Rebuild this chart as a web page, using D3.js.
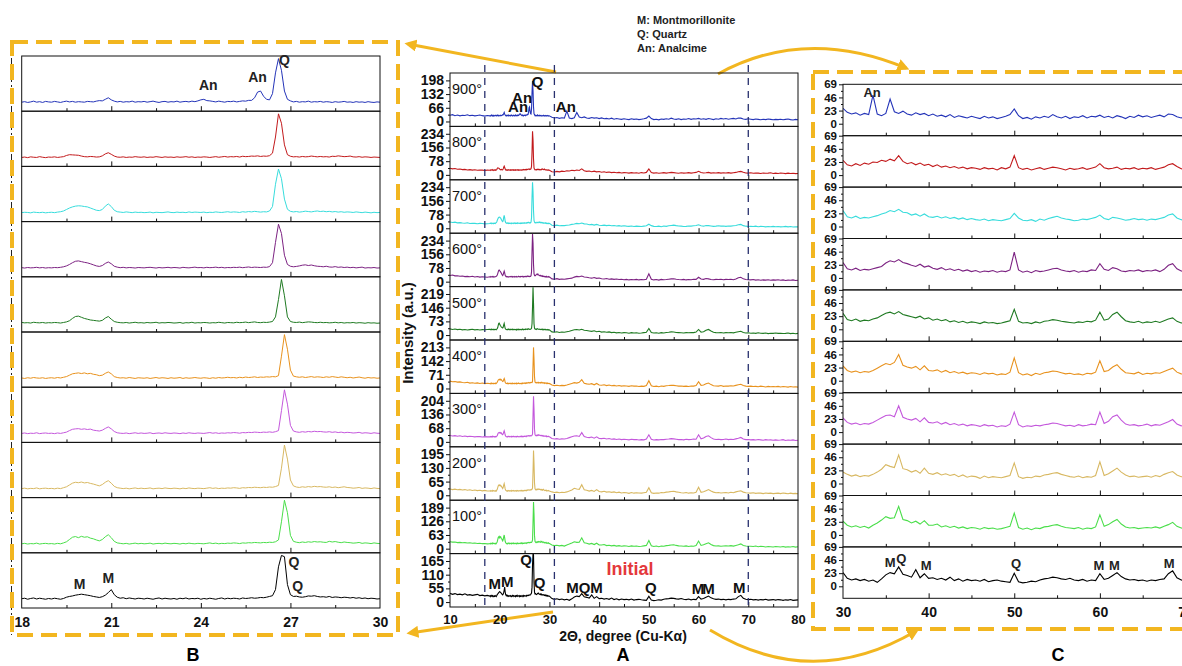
<!DOCTYPE html>
<html>
<head>
<meta charset="UTF-8">
<title>XRD patterns</title>
<script src="https://d3js.org/d3.v7.min.js"></script>
<style>
  body { margin: 0; background: #fff; }
  svg text { font-family: "Liberation Sans", Arial, sans-serif; }
</style>
</head>
<body>
<div id="chart"></div>
<script>

// ---- data ----
var seriesLabels = ['900°','800°','700°','600°','500°','400°','300°','200°','100°','Initial'];
var aTickMax = [198, 234, 234, 234, 219, 213, 204, 195, 189, 165];
var cTicks = [0, 23, 46, 69];
var aXTicks = [10, 20, 30, 40, 50, 60, 70, 80];
var bXTicks = [18, 21, 24, 27, 30];
var cXTicks = [30, 40, 50, 60, 70];
var dashedAt = [17, 31, 70];
var legendLines = ['M: Montmorillonite', 'Q: Quartz', 'An: Analcime'];

// intensity, 2θ = 10 .. 17.5 step 0.5
var low900 = [30,33,28,31,27,30,29,32,28,30,27,29,31,28,26,29];
var low800 = [38,34,36,32,33,30,31,28,30,27,29,26,28,27,25,27];
var low700 = [36,33,35,31,32,30,29,31,27,29,28,26,28,27,25,26];
var low600 = [35,38,33,34,31,32,29,30,28,31,27,29,26,28,27,25];
var low500 = [33,30,32,29,31,28,30,27,29,31,28,30,27,29,28,30];
var low400 = [38,35,36,33,34,31,30,32,28,30,27,29,26,28,25,27];
var low300 = [32,29,31,28,30,27,29,26,28,27,25,27,26,24,26,25];
var low200 = [30,27,29,26,28,25,27,24,26,23,25,22,24,21,23,20];
var low100 = [32,30,31,28,29,27,28,26,27,25,26,24,25,23,24,22];
var lowInit = [35,31,34,30,32,29,33,28,30,27,29,31,26,28,25,27];

// intensity, 2θ = 18.0 .. 30.0 step 0.1
var fine900 = [
  27,29,26,28,31,27,29,26,30,28, 27,30,28,26,29,31,28,30,27,29,
  28,27,30,29,28,31,33,32,38,44, 36,31,28,30,27,29,28,31,27,29,
  28,30,27,29,31,28,26,29,30,27, 29,28,31,27,29,30,28,31,29,32,
  36,38,33,32,30,28,31,29,27,30, 29,31,28,30,32,31,34,34,44,66,
  70,50,38,36,60,140,195,150,70,38, 32,28,30,27,29,28,31,27,29,28,
  30,27,29,28,26,29,27,28,30,27, 28,26,29,27,28,26,29,27,26,28, 27];
var fine800 = [
  26,28,25,29,27,26,30,27,25,28, 27,29,26,28,30,36,40,39,38,37,
  33,30,29,31,30,28,29,34,44,50, 42,33,28,27,29,26,28,27,30,28,
  27,29,26,28,27,30,28,26,29,27, 28,26,29,27,28,30,27,29,26,28,
  27,29,28,26,28,30,27,29,31,28, 30,29,31,28,32,30,31,33,32,34,
  31,33,32,35,48,130,248,200,90,40, 32,29,30,28,31,29,30,33,31,29,
  31,29,30,28,32,31,34,32,30,31, 33,29,28,30,27,29,28,26,28,27, 26];
var fine700 = [
  27,29,28,26,30,28,27,29,26,28, 29,27,30,32,36,44,52,58,62,64,
  63,60,58,52,46,40,38,44,62,74, 60,40,32,30,28,31,29,27,30,28,
  29,27,28,30,26,29,28,27,29,31, 28,27,30,28,29,27,31,28,30,29,
  28,30,27,29,28,31,29,28,30,32, 29,31,30,28,32,30,33,31,34,32,
  30,32,31,36,60,180,262,210,100,45, 34,31,33,30,32,35,33,31,34,36,
  33,35,32,34,31,33,30,32,29,31, 30,28,31,29,27,30,28,26,29,27, 28];
var fine600 = [
  28,26,29,27,28,30,27,29,26,28, 27,29,28,30,33,38,46,56,64,66,
  62,58,55,50,44,38,35,40,52,60, 50,36,31,28,30,27,29,28,26,29,
  28,27,29,30,28,26,29,27,28,30, 27,29,28,26,30,28,27,29,31,28,
  29,27,30,28,29,31,28,30,27,29, 28,30,29,31,28,30,32,29,31,30,
  29,31,30,34,56,170,272,220,98,46, 36,33,35,38,42,44,40,43,39,36,
  35,33,36,32,31,34,30,32,29,31, 28,30,27,29,31,26,28,27,29,26, 27];
var fine500 = [
  31,29,30,28,32,30,29,31,28,30, 29,31,30,28,31,34,40,52,62,64,
  58,52,48,44,42,40,38,42,54,62, 48,36,32,30,29,31,28,30,32,29,
  30,28,31,29,30,32,28,30,29,31, 30,28,29,31,27,30,29,32,28,30,
  29,31,30,28,30,29,32,30,28,31, 30,29,32,30,31,33,30,32,34,31,
  30,32,31,33,36,60,150,255,170,60, 36,32,31,33,30,32,34,33,31,30,
  32,30,31,29,30,32,29,31,28,30, 29,31,28,30,29,27,30,28,29,27, 28];
var fine400 = [
  26,24,27,25,28,26,25,27,24,26, 27,25,28,26,29,32,38,44,46,48,
  45,48,44,46,42,40,36,38,46,52, 44,32,28,26,27,25,28,26,24,27,
  26,25,27,24,26,28,25,27,26,24, 27,25,26,28,24,27,25,26,28,26,
  25,27,26,24,27,25,28,26,27,29, 27,28,26,29,27,30,28,29,31,28,
  30,29,31,30,32,31,36,120,213,150, 60,34,31,29,31,28,30,32,29,31,
  30,28,31,29,32,30,28,31,29,27, 29,26,28,30,27,25,28,26,27,25, 26];
var fine300 = [
  25,27,24,26,25,28,24,26,27,25, 26,24,27,25,28,31,38,44,46,47,
  44,46,43,45,40,38,36,40,48,55, 46,34,28,26,25,27,24,26,28,25,
  27,25,26,28,24,26,27,25,28,26, 25,27,26,24,27,25,28,26,25,27,
  26,25,27,29,26,28,25,27,26,28, 27,29,28,26,29,28,30,29,31,30,
  29,31,30,32,30,33,38,130,226,160, 62,36,32,30,33,31,34,32,35,33,
  34,32,31,33,30,32,29,31,28,30, 29,27,28,30,26,28,27,25,28,26, 25];
var fine200 = [
  20,22,19,21,20,23,19,21,22,20, 21,19,22,20,24,28,36,44,48,46,
  49,45,47,43,40,36,32,38,48,55, 44,30,24,22,20,22,19,21,23,20,
  22,20,21,23,19,21,22,20,23,21, 20,22,21,19,22,20,23,21,20,22,
  21,20,22,24,21,23,20,22,21,23, 22,24,23,21,24,23,25,24,26,25,
  24,26,25,27,26,29,34,110,212,150, 58,32,27,25,28,26,29,27,30,28,
  29,27,26,28,25,27,24,26,28,25, 24,22,23,25,21,23,22,20,23,21, 20];
var fine100 = [
  23,25,22,24,23,26,22,24,25,23, 24,22,25,23,27,32,42,52,55,50,
  56,52,54,48,45,40,36,42,54,63, 50,34,27,25,23,25,22,24,26,23,
  25,23,24,26,22,24,25,23,26,24, 23,25,24,22,25,23,26,24,23,25,
  24,23,25,27,24,26,23,25,24,26, 25,27,26,24,27,26,28,27,29,28,
  27,29,28,30,29,32,40,120,215,160, 60,34,30,28,31,29,32,30,33,31,
  32,30,29,34,31,33,30,28,31,29, 28,26,27,29,25,27,26,24,27,25, 24];
var fineInit = [
  24,26,22,25,27,23,26,24,22,25, 23,26,24,22,25,30,33,35,38,40,
  42,40,38,36,33,31,29,32,38,48, 60,40,30,26,28,24,27,25,23,26,
  25,23,26,24,22,25,27,23,26,24, 23,25,22,26,24,27,23,25,24,26,
  22,25,23,26,24,22,25,27,23,26, 24,26,25,23,27,25,26,28,26,27,
  29,28,30,33,36,60,150,195,190,80, 40,33,34,31,30,32,35,34,36,33,
  31,32,30,33,29,31,30,28,30,29, 27,29,26,28,25,27,24,26,25,23, 24];

// intensity, 2θ = 30.5 .. 80 step 0.5
var high900 = [
  20,17,19,15,18,16,50,17,14,18, 43,21,18,22,17,15,19,16,18,14,
  17,13,15,12,16,11,14,12,10,13, 11,9,13,10,12,9,11,13,16,26,
  14,9,11,8,12,10,13,11,16,12, 10,13,9,12,11,14,10,13,12,15,
  11,13,10,14,12,9,13,11,15,12, 14,11,13,15,12,17,16,12,10,13,
  11,9,12,10,8,11,9,12,10,8, 10,9,11,8,10,12,9,7,10,8];
var high800 = [
  18,16,20,17,21,19,23,22,26,24, 28,25,34,24,20,22,18,21,17,19,
  15,18,14,16,13,15,12,14,11,13, 12,10,13,11,12,9,13,11,14,34,
  13,10,12,9,11,13,10,12,14,13, 11,9,12,10,11,13,10,12,14,20,
  13,11,12,14,10,12,11,13,10,12, 11,13,10,12,14,18,20,15,11,10,
  12,9,11,10,8,11,9,10,12,8, 10,8,11,9,7,10,8,9,7,8];
var high700 = [
  17,15,18,14,16,15,17,19,22,24, 28,26,30,25,24,20,22,18,22,17,
  16,18,15,17,14,16,13,15,12,14, 12,11,13,10,12,11,10,12,14,23,
  15,11,10,12,9,13,11,14,16,18, 15,13,12,10,11,13,12,14,16,20,
  14,12,16,15,13,11,12,14,12,13, 11,13,12,14,16,20,22,15,12,10,
  11,10,12,9,11,10,8,10,9,11, 9,10,8,9,11,8,10,7,9,8];
var high600 = [
  16,14,17,13,15,14,16,18,20,26, 30,28,32,27,25,22,20,24,19,21,
  17,15,18,14,16,13,15,12,14,11, 13,10,12,11,13,10,12,11,14,45,
  14,10,12,9,13,11,12,14,16,17, 14,12,11,13,10,12,11,14,13,25,
  15,13,18,16,12,11,13,12,14,11, 13,12,14,11,15,22,25,16,12,11,
  10,12,9,11,8,10,9,11,8,10, 9,11,8,10,7,9,8,10,7,8];
var high500 = [
  17,15,18,14,16,15,18,20,24,28, 30,27,31,26,24,22,20,23,18,20,
  16,18,15,17,13,15,12,14,11,13, 12,10,13,11,12,10,11,13,15,35,
  14,11,12,10,13,11,14,15,17,16, 14,13,12,11,13,12,14,13,16,30,
  16,18,26,30,22,15,13,12,14,11, 13,12,14,12,15,18,20,14,11,12,
  10,11,9,12,10,9,11,8,10,9, 11,9,10,8,9,11,8,10,7,9];
var high400 = [
  18,15,17,14,16,15,18,22,26,30, 28,32,46,27,24,22,25,19,26,18,
  17,19,15,18,14,16,13,15,12,14, 13,11,14,12,13,10,12,11,15,40,
  14,10,12,9,13,11,14,15,17,16, 14,12,13,11,12,10,13,12,15,35,
  16,18,24,28,20,14,13,12,15,11, 13,12,14,13,16,19,22,15,12,11,
  12,10,11,9,12,10,8,11,9,10, 9,11,8,10,9,7,10,8,9,7];
var high300 = [
  17,14,16,13,15,14,17,21,25,29, 30,27,46,26,23,21,24,18,25,17,
  16,18,14,17,13,15,12,14,11,13, 12,10,13,11,12,9,11,10,14,35,
  13,9,11,10,12,11,13,14,16,15, 13,11,12,10,13,11,12,14,13,35,
  15,19,27,30,21,14,12,13,11,12, 14,11,13,12,15,18,22,14,11,12,
  10,11,9,12,10,8,11,9,10,8, 10,8,9,11,7,9,8,10,7,8];
var high200 = [
  16,13,15,12,14,13,16,20,25,33, 30,28,50,26,24,20,23,18,27,18,
  16,19,15,17,14,16,12,15,11,13, 12,9,13,10,12,11,10,12,14,36,
  12,9,11,10,13,12,15,16,18,19, 16,14,12,11,13,10,12,11,14,38,
  14,17,22,27,20,15,12,13,11,12, 13,11,14,12,16,19,21,15,12,11,
  10,12,9,11,10,8,11,9,10,8, 9,10,8,11,9,7,10,8,9,7];
var high100 = [
  17,14,16,13,15,12,17,21,26,32, 29,30,50,27,25,21,24,19,25,17,
  17,19,14,16,13,15,12,14,11,13, 12,10,13,11,12,10,11,13,15,38,
  13,10,12,9,12,11,14,15,17,18, 15,13,12,11,13,10,12,11,14,35,
  15,18,23,27,19,14,12,13,11,12, 13,12,14,12,15,18,22,15,12,11,
  11,10,12,9,11,10,8,10,9,8, 10,9,8,10,7,9,8,10,7,9];
var highInit = [
  14,11,13,10,12,9,11,7,13,20, 24,22,34,21,19,16,29,15,22,14,
  15,12,14,11,16,10,13,9,12,10, 11,9,12,8,10,11,9,8,7,23,
  8,6,7,9,8,11,13,14,16,15, 13,12,14,11,10,12,9,11,10,22,
  12,14,19,24,17,13,11,12,10,11, 9,11,10,12,13,22,27,15,11,10,
  11,9,10,8,10,9,11,8,9,10, 8,10,9,7,9,8,10,7,8,9];

// peak labels: panel index, text, 2θ, intensity
var annA = [
  {p: 0, t: 'Q',  x: 27.6, y: 166},
  {p: 0, t: 'An', x: 24.5, y: 87},
  {p: 0, t: 'An', x: 23.7, y: 47},
  {p: 0, t: 'An', x: 33.3, y: 47},
  {p: 9, t: 'Q',  x: 25.3, y: 149},
  {p: 9, t: 'M',  x: 19.0, y: 51},
  {p: 9, t: 'M',  x: 21.5, y: 62},
  {p: 9, t: 'Q',  x: 28.0, y: 55},
  {p: 9, t: 'MQM', x: 37.05, y: 35},
  {p: 9, t: 'Q',  x: 50.4, y: 35},
  {p: 9, t: 'M',  x: 59.9, y: 34},
  {p: 9, t: 'M',  x: 62.0, y: 31},
  {p: 9, t: 'M',  x: 68.2, y: 37}
];
var annB = [
  {p: 0, t: 'An', x: 24.25, y: 75},
  {p: 0, t: 'An', x: 25.9, y: 105},
  {p: 0, t: 'Q',  x: 26.8, y: 169},
  {p: 9, t: 'M',  x: 19.94, y: 61},
  {p: 9, t: 'M',  x: 20.9, y: 85},
  {p: 9, t: 'Q',  x: 27.12, y: 148},
  {p: 9, t: 'Q',  x: 27.24, y: 55}
];
var annC = [
  {p: 0, t: 'An', x: 33.4, y: 47},
  {p: 9, t: 'M',  x: 35.5, y: 34},
  {p: 9, t: 'Q',  x: 36.8, y: 40},
  {p: 9, t: 'M',  x: 39.7, y: 28.6},
  {p: 9, t: 'Q',  x: 50.2, y: 31.5},
  {p: 9, t: 'M',  x: 59.9, y: 28.6},
  {p: 9, t: 'M',  x: 61.7, y: 29},
  {p: 9, t: 'M',  x: 68.1, y: 31.5}
];

// ---- styles ----
var seriesColors = ['#2434b8', '#c21a1c', '#38dcdc', '#7c2282', '#1f7a22',
                    '#e8921e', '#c458dc', '#d8b862', '#4ade4a', '#000000'];
var gold = '#f2b620';
var sans = '"Liberation Sans", Arial, sans-serif';
var dejavu = '"DejaVu Sans", sans-serif';
var serif = '"Liberation Serif", "DejaVu Serif", serif';

var lowX = d3.range(16).map(i => 10 + i * 0.5);
var fineX = d3.range(121).map(i => +(18 + i * 0.1).toFixed(1));
var highX = d3.range(100).map(i => 30.5 + i * 0.5);

var lowSets = [low900, low800, low700, low600, low500, low400, low300, low200, low100, lowInit];
var fineSets = [fine900, fine800, fine700, fine600, fine500, fine400, fine300, fine200, fine100, fineInit];
var highSets = [high900, high800, high700, high600, high500, high400, high300, high200, high100, highInit];

function pairs(xs, ys) {
  return xs.map((x, i) => [x, ys[i]]).filter(d => d[1] != null);
}

var samples = seriesLabels.map(function (lab, k) {
  var low = pairs(lowX, lowSets[k]);
  var fine = pairs(fineX, fineSets[k]);
  var high = pairs(highX, highSets[k]);
  return {
    label: lab, color: seriesColors[k], T: aTickMax[k],
    fine: fine,
    full: low.concat(fine, high),
    wide: [fine[fine.length - 1]].concat(high)
  };
});

var svg = d3.select('#chart').append('svg')
  .attr('width', 1182).attr('height', 666);
svg.append('rect').attr('width', 1182).attr('height', 666).attr('fill', '#fff');
var defs = svg.append('defs');
defs.append('marker')
  .attr('id', 'goldHead').attr('viewBox', '0 0 10 10')
  .attr('refX', 7).attr('refY', 5)
  .attr('markerWidth', 4).attr('markerHeight', 4)
  .attr('orient', 'auto')
  .append('path').attr('d', 'M0,0L10,5L0,10z').attr('fill', gold);

function styleAxis(sel, family, size) {
  sel.select('.domain').remove();
  sel.selectAll('line').attr('stroke', '#111');
  sel.selectAll('text').attr('font-family', family).attr('font-size', size)
    .attr('font-weight', 'bold').attr('fill', '#111');
}

function addClip(id, x, y, w, h) {
  defs.append('clipPath').attr('id', id)
    .append('rect').attr('x', x).attr('y', y).attr('width', w).attr('height', h);
}

function innerTicks(g, scale, bot, major, minor) {
  g.append('g').attr('transform', `translate(0,${bot})`)
    .call(d3.axisBottom(scale).tickValues(major).tickSize(-5).tickFormat(''))
    .call(s => styleAxis(s));
  g.append('g').attr('transform', `translate(0,${bot})`)
    .call(d3.axisBottom(scale).tickValues(minor).tickSize(-3).tickFormat(''))
    .call(s => styleAxis(s));
}

// ---- gold frames and arrows ----
var frames = svg.append('g');
frames.append('line').attr('x1', 11.5).attr('x2', 11.5).attr('y1', 42).attr('y2', 635)
  .attr('stroke', '#222').attr('stroke-width', 1).attr('stroke-dasharray', '8,3,2,3');
frames.append('rect').attr('x', 12).attr('y', 42).attr('width', 386).attr('height', 593)
  .attr('fill', 'none').attr('stroke', gold).attr('stroke-width', 4).attr('stroke-dasharray', '16,8');
frames.append('rect').attr('x', 813).attr('y', 72).attr('width', 400).attr('height', 557)
  .attr('fill', 'none').attr('stroke', gold).attr('stroke-width', 4).attr('stroke-dasharray', '16,8');

var arrows = [
  'M556,72 L408,44',
  'M553,612 L410,633',
  'M718,74 Q805,26 906,68',
  'M710,630 Q812,692 916,631'
];
frames.selectAll('path.arrow').data(arrows).enter().append('path')
  .attr('class', 'arrow').attr('d', d => d).attr('fill', 'none')
  .attr('stroke', gold).attr('stroke-width', 3).attr('marker-end', 'url(#goldHead)');

// ---- panel A ----
var xA = d3.scaleLinear().domain([10, 80]).range([450, 798]);
var aTop = 73, aH = 53.4;
var gA = svg.append('g');

samples.forEach(function (s, k) {
  var top = aTop + k * aH, bot = top + aH;
  var y = d3.scaleLinear().domain([-0.12 * s.T, 1.18 * s.T]).range([bot, top]);
  var g = gA.append('g');
  addClip('clipA' + k, xA(10), top, xA(80) - xA(10), aH);
  g.append('path').datum(s.full)
    .attr('clip-path', `url(#clipA${k})`)
    .attr('fill', 'none').attr('stroke', s.color).attr('stroke-width', 1.1)
    .attr('d', d3.line().x(d => xA(d[0])).y(d => y(d[1])));
  innerTicks(g, xA, bot, d3.range(20, 80, 10), d3.range(15, 80, 10));
  var step = s.T / 3;
  g.append('g').attr('transform', `translate(${xA(10)},0)`)
    .call(d3.axisLeft(y).tickValues([0, step, 2 * step, s.T]).tickSize(4).tickPadding(2).tickFormat(d3.format('d')))
    .call(sel => styleAxis(sel, dejavu, 14));
  g.append('g').attr('transform', `translate(${xA(10)},0)`)
    .call(d3.axisLeft(y).tickValues([step / 2, step * 1.5, step * 2.5]).tickSize(2).tickFormat(''))
    .call(sel => styleAxis(sel));
  g.append('rect').attr('x', xA(10)).attr('y', top).attr('width', xA(80) - xA(10)).attr('height', aH)
    .attr('fill', 'none').attr('stroke', '#111').attr('stroke-width', 1);
  if (k < 9) {
    g.append('text').attr('x', xA(10) + 2).attr('y', top + 21)
      .attr('font-size', 14.5).attr('fill', '#111').text(s.label);
  } else {
    g.append('text').attr('x', xA(46.2)).attr('y', y(109)).attr('text-anchor', 'middle')
      .attr('font-size', 18).attr('font-weight', 'bold').attr('fill', '#e4383c').text(s.label);
  }
  annA.filter(a => a.p === k).forEach(function (a) {
    g.append('text').attr('x', xA(a.x)).attr('y', y(a.y)).attr('text-anchor', 'middle')
      .attr('font-size', 15).attr('font-weight', 'bold').attr('fill', '#111').text(a.t);
  });
});

var aBottom = aTop + 10 * aH;
gA.selectAll('line.guide').data(dashedAt).enter().append('line')
  .attr('class', 'guide')
  .attr('x1', d => xA(d)).attr('x2', d => xA(d))
  .attr('y1', 65).attr('y2', aBottom)
  .attr('stroke', '#28306e').attr('stroke-width', 1.3).attr('stroke-dasharray', '7,6');

gA.append('g').attr('transform', `translate(0,${aBottom})`)
  .call(d3.axisBottom(xA).tickValues(aXTicks).tickSize(0).tickPadding(8))
  .call(sel => styleAxis(sel, dejavu, 13));
gA.append('text').attr('x', 623).attr('y', 641).attr('text-anchor', 'middle')
  .attr('font-size', 14).attr('font-weight', 'bold').attr('fill', '#111').text('2Θ, degree (Cu-Kα)');
gA.append('text').attr('transform', 'translate(413,333) rotate(-90)').attr('text-anchor', 'middle')
  .attr('font-size', 15).attr('font-weight', 'bold').attr('fill', '#111').text('Intensity (a.u.)');
gA.append('text').attr('x', 623).attr('y', 661).attr('text-anchor', 'middle')
  .attr('font-family', serif).attr('font-size', 18).attr('font-weight', 'bold').text('A');

// legend
svg.append('g').selectAll('text').data(legendLines).enter().append('text')
  .attr('x', 637).attr('y', (d, i) => 24 + i * 14)
  .attr('font-family', dejavu).attr('font-size', 11).attr('font-weight', 'bold')
  .attr('fill', '#222').text(d => d);

// ---- panel B ----
var xB = d3.scaleLinear().domain([18, 30]).range([21.7, 380]);
var bTop = 56, bH = 55.2;
var gB = svg.append('g');
samples.forEach(function (s, k) {
  var top = bTop + k * bH, bot = top + bH;
  var ext = d3.extent(s.fine, d => d[1]);
  var r = ext[1] - ext[0];
  var y = d3.scaleLinear().domain([ext[0] - 0.2 * r, ext[1] + 0.06 * r]).range([bot, top]);
  var g = gB.append('g');
  addClip('clipB' + k, xB(18), top, xB(30) - xB(18), bH);
  g.append('path').datum(s.fine)
    .attr('clip-path', `url(#clipB${k})`)
    .attr('fill', 'none').attr('stroke', s.color).attr('stroke-width', 1)
    .attr('d', d3.line().x(d => xB(d[0])).y(d => y(d[1])));
  innerTicks(g, xB, bot, [21, 24, 27], [19.5, 22.5, 25.5, 28.5]);
  g.append('rect').attr('x', xB(18)).attr('y', top).attr('width', xB(30) - xB(18)).attr('height', bH)
    .attr('fill', 'none').attr('stroke', '#111').attr('stroke-width', 1);
  annB.filter(a => a.p === k).forEach(function (a) {
    g.append('text').attr('x', xB(a.x)).attr('y', y(a.y)).attr('text-anchor', 'middle')
      .attr('font-size', 14).attr('font-weight', 'bold').attr('fill', '#222').text(a.t);
  });
});
var bBottom = bTop + 10 * bH;
gB.append('g').attr('transform', `translate(0,${bBottom})`)
  .call(d3.axisBottom(xB).tickValues(bXTicks).tickSize(0).tickPadding(9))
  .call(sel => styleAxis(sel, sans, 14));
gB.append('text').attr('x', 193).attr('y', 661).attr('text-anchor', 'middle')
  .attr('font-family', serif).attr('font-size', 18).attr('font-weight', 'bold').text('B');

// ---- panel C ----
var xC = d3.scaleLinear().domain([30, 70]).range([843, 1185.5]);
var cTop = 84.3, cH = 51.4;
var gC = svg.append('g');
samples.forEach(function (s, k) {
  var top = cTop + k * cH, bot = top + cH;
  var y = d3.scaleLinear().domain([-21, 69]).range([bot, top]);
  var g = gC.append('g');
  addClip('clipC' + k, xC(30), top, 1182 - xC(30), cH);
  g.append('path').datum(s.wide.filter(d => d[0] <= 70))
    .attr('clip-path', `url(#clipC${k})`)
    .attr('fill', 'none').attr('stroke', s.color).attr('stroke-width', 1.1)
    .attr('d', d3.line().x(d => xC(d[0])).y(d => y(d[1])));
  innerTicks(g, xC, bot, [40, 50, 60], [35, 45, 55, 65]);
  g.append('g').attr('transform', `translate(${xC(30)},0)`)
    .call(d3.axisLeft(y).tickValues(cTicks).tickSize(4).tickPadding(2))
    .call(sel => styleAxis(sel, dejavu, 11.5));
  g.append('g').attr('transform', `translate(${xC(30)},0)`)
    .call(d3.axisLeft(y).tickValues([11.5, 34.5, 57.5]).tickSize(2).tickFormat(''))
    .call(sel => styleAxis(sel));
  g.append('rect').attr('x', xC(30)).attr('y', top).attr('width', xC(70) - xC(30)).attr('height', cH)
    .attr('fill', 'none').attr('stroke', '#111').attr('stroke-width', 1);
  annC.filter(a => a.p === k).forEach(function (a) {
    g.append('text').attr('x', xC(a.x)).attr('y', y(a.y)).attr('text-anchor', 'middle')
      .attr('font-size', 13).attr('font-weight', 'bold').attr('fill', '#222').text(a.t);
  });
});
var cBottom = cTop + 10 * cH;
gC.append('g').attr('transform', `translate(0,${cBottom})`)
  .call(d3.axisBottom(xC).tickValues(cXTicks).tickSize(0).tickPadding(9))
  .call(sel => styleAxis(sel, sans, 14));
gC.append('text').attr('x', 1058).attr('y', 661).attr('text-anchor', 'middle')
  .attr('font-family', serif).attr('font-size', 18).attr('font-weight', 'bold').text('C');

</script>
</body>
</html>
